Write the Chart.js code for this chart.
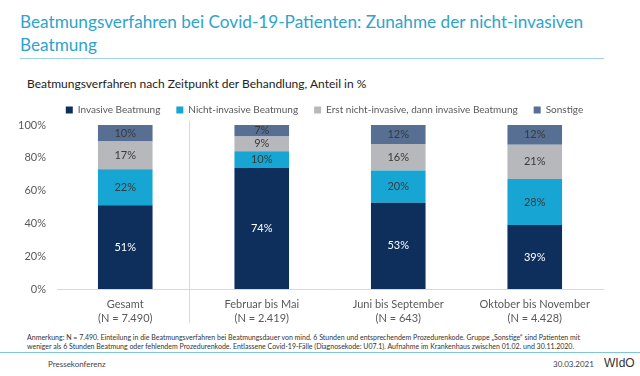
<!DOCTYPE html>
<html lang="de">
<head>
<meta charset="utf-8">
<script src="https://cdn.jsdelivr.net/npm/chart.js@4"></script>
<style>
  html, body { margin: 0; padding: 0; background: #fff; }
  body { width: 640px; height: 376px; position: relative; overflow: hidden; font-family: Lato, sans-serif; }
  .abs { position: absolute; white-space: nowrap; }
  #titel { left: 20px; top: 10px; font-size: 17.2px; line-height: 23px; color: #2ea3cc; }
  #linie-oben { left: 20px; top: 58px; width: 584px; height: 1px; background: #9dd3e6; }
  #untertitel { left: 27px; top: 76px; font-size: 12px; color: #222; }
  #chart-box { left: 0; top: 86px; width: 640px; height: 244px; }
  #anmerkung { left: 27px; top: 333px; font-size: 7px; line-height: 9px; color: #333; }
  #linie-unten { left: 0; top: 352px; width: 640px; height: 1px; background: #7fc6d6; }
  #presse { left: 48px; top: 359px; font-size: 8px; color: #444; }
  #datum { left: 553px; top: 359px; font-size: 8px; color: #444; }
  #wido { left: 604px; top: 356px; font-size: 12px; color: #333; font-family: "Liberation Sans Narrow", sans-serif; }
</style>
</head>
<body>
<div id="titel" class="abs">Beatmungsverfahren bei Covid-19-Patienten: Zunahme der nicht-invasiven<br>Beatmung</div>
<div id="linie-oben" class="abs"></div>
<div id="untertitel" class="abs">Beatmungsverfahren nach Zeitpunkt der Behandlung, Anteil in %</div>
<div id="chart-box" class="abs"><canvas id="chartBeatmung" width="640" height="244"></canvas></div>
<div id="anmerkung" class="abs">Anmerkung: N = 7.490. Einteilung in die Beatmungsverfahren bei Beatmungsdauer von mind. 6 Stunden und entsprechendem Prozedurenkode. Gruppe „Sonstige“ sind Patienten mit<br>weniger als 6 Stunden Beatmung oder fehlendem Prozedurenkode. Entlassene Covid-19-Fälle (Diagnosekode: U07.1). Aufnahme im Krankenhaus zwischen 01.02. und 30.11.2020.</div>
<div id="linie-unten" class="abs"></div>
<div id="presse" class="abs">Pressekonferenz</div>
<div id="datum" class="abs">30.03.2021</div>
<div id="wido" class="abs">WIdO</div>

<script>
'use strict';

// Zeiträume (x-Achse)
const zeitraeume = [
    ['Gesamt', '(N = 7.490)'],
    ['Februar bis Mai', '(N = 2.419)'],
    ['Juni bis September', '(N = 643)'],
    ['Oktober bis November', '(N = 4.428)']
];

// Anteile in % je Beatmungsverfahren
const invasiv = [51, 74, 52.6, 39];
const nichtInvasiv = [22, 10, 19.6, 28];
const erstNichtInvasiv = [17, 9, 16.2, 21];
const sonstige = [10, 7, 11.6, 12];

const reihen = ['Invasive Beatmung', 'Nicht-invasive Beatmung', 'Erst nicht-invasive, dann invasive Beatmung', 'Sonstige'];
const farben = ['#0e2f5c', '#17a5d4', '#b6b8bb', '#566f93'];
const textFarben = ['#ffffff', '#3a3a3a', '#3a3a3a', '#3a3a3a'];

// Prozentwerte mittig in die Balken schreiben
const balkenLabels = {
    id: 'balkenLabels',
    afterDatasetsDraw(chart) {
        const ctx = chart.ctx;
        ctx.save();
        ctx.font = '11px Lato';
        ctx.textAlign = 'center';
        ctx.textBaseline = 'middle';
        chart.data.datasets.forEach((ds, i) => {
            chart.getDatasetMeta(i).data.forEach((bar, j) => {
                const p = bar.getCenterPoint();
                ctx.fillStyle = textFarben[i];
                ctx.fillText(Math.round(ds.data[j]) + '%', p.x, p.y);
            });
        });
        ctx.restore();
    }
};

// Trennlinie zwischen "Gesamt" und den Zeiträumen
const trennlinie = {
    id: 'trennlinie',
    afterDraw(chart) {
        const x = chart.scales.x;
        const xPos = (x.getPixelForValue(0) + x.getPixelForValue(1)) / 2 - 5;
        const ctx = chart.ctx;
        ctx.save();
        ctx.strokeStyle = '#d9d9d9';
        ctx.lineWidth = 1;
        ctx.beginPath();
        ctx.moveTo(Math.round(xPos) + 0.5, chart.chartArea.top - 4);
        ctx.lineTo(Math.round(xPos) + 0.5, chart.chartArea.bottom + 34);
        ctx.stroke();
        ctx.restore();
    }
};

// Legende etwas nach rechts, damit sie wie im Original über den Balken zentriert ist
const legendeVerschieben = {
    id: 'legendeVerschieben',
    afterLayout(chart) {
        const versatz = 23;
        chart.legend.left += versatz;
        chart.legend.right += versatz;
    }
};

const werte = [invasiv, nichtInvasiv, erstNichtInvasiv, sonstige];

new Chart(document.getElementById('chartBeatmung'), {
    type: 'bar',
    data: {
        labels: zeitraeume,
        datasets: reihen.map((name, i) => ({
            label: name,
            data: werte[i],
            backgroundColor: farben[i],
            barPercentage: 1,
            categoryPercentage: 0.4
        }))
    },
    options: {
        responsive: false,
        animation: false,
        layout: { padding: { top: 3, right: 37, left: 0, bottom: 0 } },
        scales: {
            x: {
                stacked: true,
                grid: { display: false, drawTicks: false },
                border: { color: '#d9d9d9' },
                ticks: { color: '#595959', font: { family: 'Lato', size: 11, lineHeight: 1.3 }, padding: 8, maxRotation: 0 },
                afterFit(scale) { scale.height = 41; }
            },
            y: {
                stacked: true,
                min: 0,
                max: 100,
                grid: { display: false, drawTicks: false },
                border: { display: false },
                ticks: { stepSize: 20, color: '#595959', font: { family: 'Lato', size: 11 }, padding: 11,
                    callback: v => v + '%' },
                afterFit(scale) { scale.width = 57; }
            }
        },
        plugins: {
            legend: {
                position: 'top',
                labels: { boxWidth: 7, boxHeight: 7, padding: 16, color: '#595959', font: { family: 'Lato', size: 10 } }
            },
            tooltip: { enabled: false }
        }
    },
    plugins: [balkenLabels, trennlinie, legendeVerschieben]
});
</script>
</body>
</html>
